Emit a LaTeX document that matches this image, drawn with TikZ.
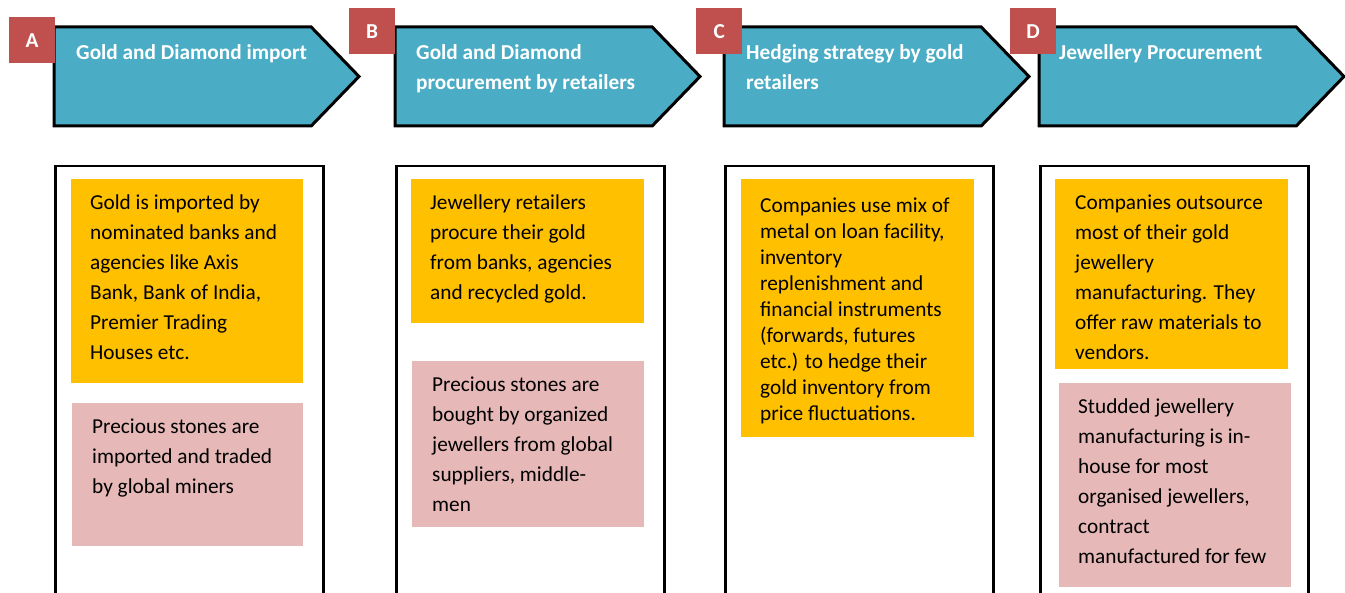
\documentclass[tikz,border=0pt]{standalone}
\usepackage{fontspec}
\setmainfont{Carlito}
\usetikzlibrary{shapes.symbols}

\begin{document}
\begin{tikzpicture}[x=1pt,y=-1pt,
  chev/.style={signal,signal to=east,signal pointer angle=92,draw=black,line width=3pt,fill=tealblue,minimum width=305,minimum height=99,outer sep=0,inner sep=0},
  tag/.style={fill=tagred,minimum size=46,inner sep=0,text=white,font=\fontsize{21.3}{24}\selectfont\bfseries},
  ttl/.style={text=white,align=left,inner sep=0,anchor=north west,execute at begin node=\strut,font=\fontsize{21.3}{30}\selectfont\bfseries},
  col/.style={draw=black,line width=2.5pt,fill=white,minimum width=268,minimum height=460,anchor=north west,inner sep=0},
  goldbox/.style={fill=golden,anchor=north west,inner sep=0},
  rosebox/.style={fill=rosy,anchor=north west,inner sep=0},
  txt/.style={align=left,inner sep=0,anchor=north west,execute at begin node=\strut,font=\fontsize{21.3}{30}\selectfont}]
\definecolor{tealblue}{HTML}{4BACC6}
\definecolor{tagred}{HTML}{C0504D}
\definecolor{golden}{HTML}{FFC000}
\definecolor{rosy}{HTML}{E6B9B8}
\useasboundingbox (0,0) rectangle (1345,593);
  \foreach \ltr/\xp/\tx/\ty in {A/54/9/17,B/395/349/8,C/724/696/8,D/1039/1010/8}
  {  \node [chev,anchor=west] (chev\ltr) at (\xp,76.5) {};
     \node [col] (col\ltr) at (\xp,165) {};
     \node [tag,anchor=north west] (tag\ltr) at (\tx,\ty) {\ltr};}
\node [ttl] (ttlA) at (76,38) {Gold and Diamond import};
\node [ttl] (ttlB) at (416,44) {Gold and Diamond\\procurement by retailers};
\node [ttl] (ttlC) at (746,44) {Hedging strategy by gold\\retailers};
\node [ttl] (ttlD) at (1059,38) {Jewellery Procurement};
\node [goldbox,minimum width=232,minimum height=204] (goldA) at (71,179) {};
\node [rosebox,minimum width=231,minimum height=143] (roseA) at (72,403) {};
\node [goldbox,minimum width=233,minimum height=144] (goldB) at (411,179) {};
\node [rosebox,minimum width=232,minimum height=166] (roseB) at (412,361) {};
\node [goldbox,minimum width=233,minimum height=258] (goldC) at (741,179) {};
\node [goldbox,minimum width=233,minimum height=190] (goldD) at (1055,179) {};
\node [rosebox,minimum width=232,minimum height=204] (roseD) at (1059,383) {};
\node [txt] (txtgoldA) at (90,195) {Gold is imported by\\nominated banks and\\agencies like Axis\\Bank, Bank of India,\\Premier Trading\\Houses etc.};
\node [txt] (txtroseA) at (92,419) {Precious stones are\\imported and traded\\by global miners};
\node [txt] (txtgoldB) at (430,195) {Jewellery retailers\\procure their gold\\from banks, agencies\\and recycled gold.};
\node [txt] (txtroseB) at (432,377) {Precious stones are\\bought by organized\\jewellers from global\\suppliers, middle-\\men};
\node [txt,font=\fontsize{21.3}{26}\selectfont] (txtgoldC) at (760,197.8) {Companies use mix of\\metal on loan facility,\\inventory\\replenishment and\\financial instruments\\(forwards, futures\\etc.) to hedge their\\gold inventory from\\price fluctuations.};
\node [txt] (txtgoldD) at (1075,195) {Companies outsource\\most of their gold\\jewellery\\manufacturing. They\\offer raw materials to\\vendors.};
\node [txt] (txtroseD) at (1078,399) {Studded jewellery\\manufacturing is in-\\house for most\\organised jewellers,\\contract\\manufactured for few};
\end{tikzpicture}
\end{document}
